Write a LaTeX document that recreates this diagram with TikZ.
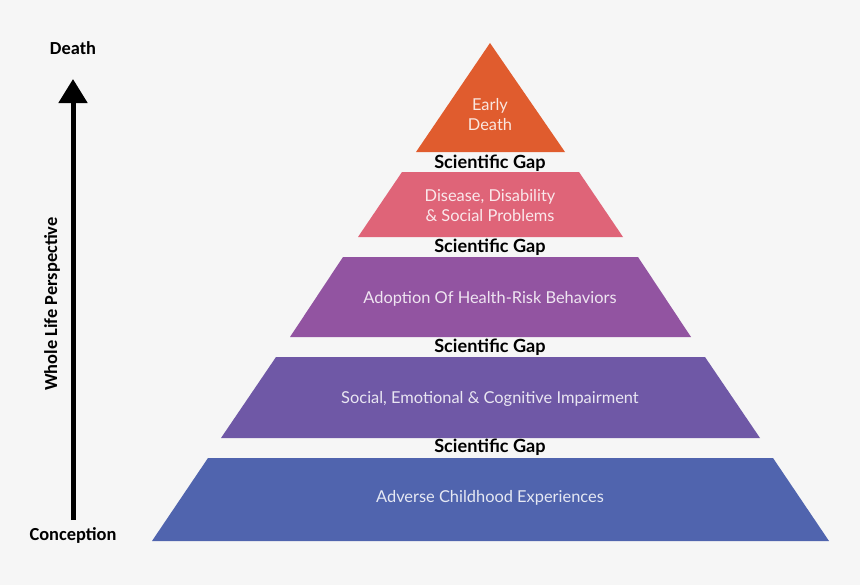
\documentclass[tikz,border=0pt]{standalone}
\usepackage{fontspec}
\setmainfont{Lato}
\newfontfamily\axisfont{Carlito}
\usetikzlibrary{arrows.meta}
\definecolor{bg}{HTML}{F6F6F6}
\definecolor{cA}{HTML}{E05C2E}
\definecolor{cB}{HTML}{DF6478}
\definecolor{cC}{HTML}{9254A1}
\definecolor{cD}{HTML}{6F58A6}
\definecolor{cE}{HTML}{5064AE}
\tikzset{
  lvl/.style={font=\fontsize{12.3}{15}\selectfont, align=center, inner sep=0pt},
  gap/.style={font=\fontsize{13.6}{15}\selectfont\bfseries, text=black, inner sep=0pt},
  axislbl/.style={font=\axisfont\fontsize{13.8}{15}\selectfont\bfseries, text=black, inner sep=0pt},
}
\begin{document}
\begin{tikzpicture}[x=0.75pt,y=-0.75pt]
\fill[bg] (0,0) rectangle (860,585);
\useasboundingbox (0,0) rectangle (860,585);
\fill[cA] (490,43) -- (565,152) -- (416,152) -- cycle;
\fill[cB] (402,172) -- (579,172) -- (623,237) -- (358,237) -- cycle;
\fill[cC] (343,257) -- (638,257) -- (691,337) -- (290,337) -- cycle;
\fill[cD] (276,357) -- (705,357) -- (760,438) -- (221,438) -- cycle;
\fill[cE] (208,458) -- (773,458) -- (829,541) -- (152,541) -- cycle;
\node[lvl, text=white!85!cA] (ed) at (490,115) {Early\\Death};
\node[lvl, text=white!85!cB] (dd) at (490,206) {Disease, Disability\\\& Social Problems};
\node[lvl, text=white!85!cC] (ah) at (490,299) {Adoption Of Health-Risk Behaviors};
\node[lvl, text=white!85!cD] (se) at (490,399) {Social, Emotional \& Cognitive Impairment};
\node[lvl, text=white!85!cE] (ac) at (490,498) {Adverse Childhood Experiences};
\node[gap] (g1) at (490,163.5) {Scientific Gap};
\node[gap] (g2) at (490,247.5) {Scientific Gap};
\node[gap] (g3) at (490,347.5) {Scientific Gap};
\node[gap] (g4) at (490,447.5) {Scientific Gap};
\node[axislbl] (death) at (73,48) {Death};
\node[axislbl] (conc) at (73,535) {Conception};
\node[axislbl, rotate=90] (wlp) at (52,304) {Whole Life Perspective};
\coordinate (abot) at (73,520);
\coordinate (atop) at (73,79);
\draw[line width=3.75pt, -{Triangle[width=21pt,length=18pt]}] (abot) -- (atop);
\end{tikzpicture}
\end{document}
